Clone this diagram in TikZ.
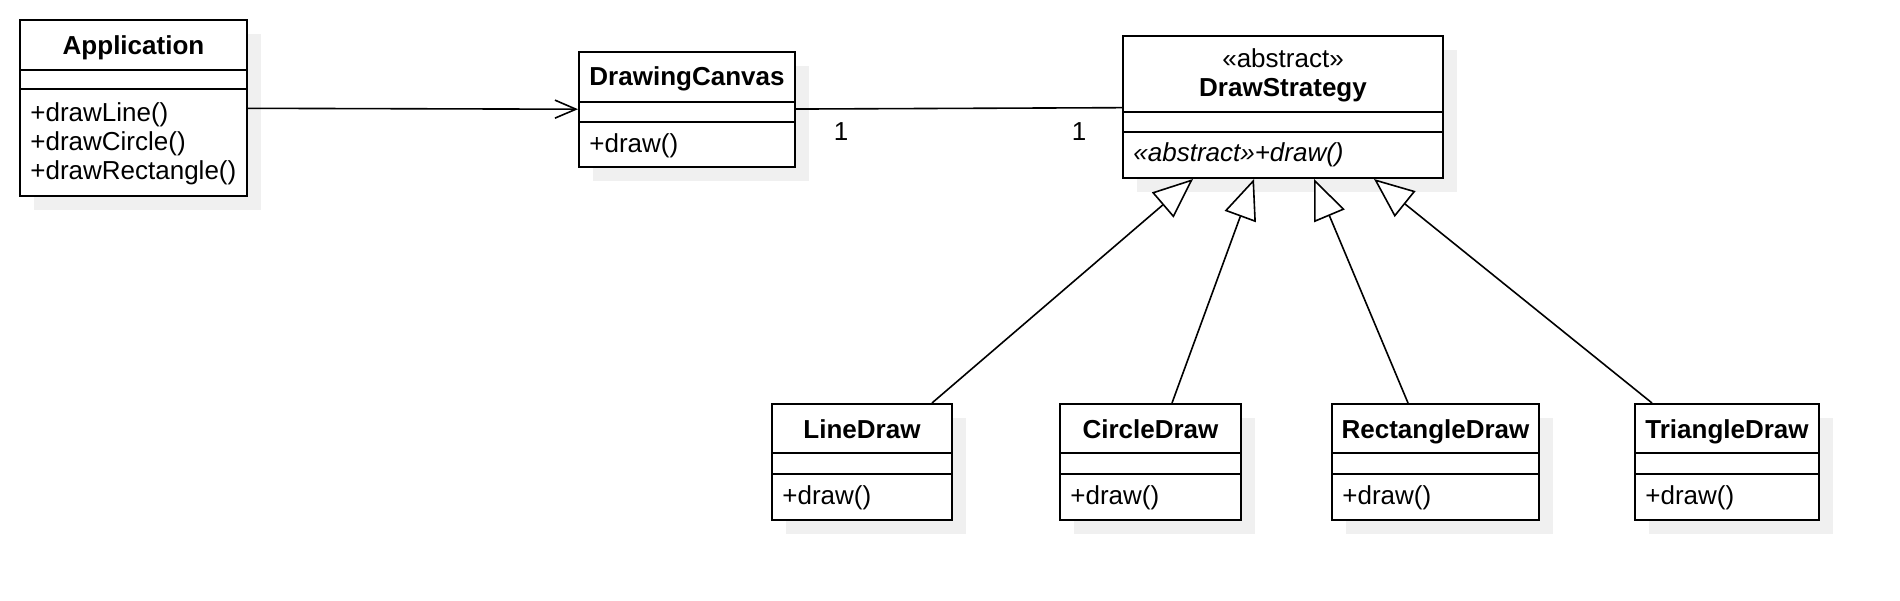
\documentclass[tikz,border=0pt]{standalone}
\usepackage{fontspec}
\setmainfont{Liberation Sans}
\usetikzlibrary{arrows.meta,positioning,calc,shadows}
\definecolor{umlline}{RGB}{0,0,0}
\definecolor{umlshadow}{RGB}{240,240,240}

\begin{document}
\begin{tikzpicture}[
  x=0.5pt, y=-0.5pt,
  font=\fontsize{13}{14.6}\selectfont,
  classbox/.style={draw=umlline, line width=1pt, fill=white, inner sep=0pt,
    drop shadow={shadow xshift=7pt, shadow yshift=-7pt, fill=umlshadow, opacity=1}},
  title/.style={font=\fontsize{13}{14.6}\selectfont\bfseries, anchor=base, inner sep=0pt},
  stereo/.style={anchor=base, inner sep=0pt},
  member/.style={anchor=west, align=left, inner sep=0pt},
  onemember/.style={anchor=base west, inner sep=0pt},
  mult/.style={inner sep=0pt},
  divider/.style={draw=umlline, line width=1pt},
  assoc/.style={draw=umlline, line width=0.8pt},
  navig/.style={draw=umlline, line width=0.8pt, -{Straight Barb[length=10.5pt, width=9pt]}},
  inherit/.style={draw=umlline, line width=0.8pt, -{Triangle[fill=white, length=20pt, width=16.5pt]}}
]
\useasboundingbox (0,0) rectangle (1900,600);

% client and context
\node[classbox, minimum width=113.5pt, minimum height=88pt] (app) at (133.5,108) {};
\node[title] (appname) at (133.5,54) {Application};
\draw[divider] (20,70) -- (247,70);
\draw[divider] (20,89) -- (247,89);
\node[member] (appops) at (30,143.5) {+drawLine()\\+drawCircle()\\+drawRectangle()};

\node[classbox, minimum width=108pt, minimum height=57.5pt] (canvas) at (687,109.5) {};
\node[title] (canvasname) at (687,85) {DrawingCanvas};
\draw[divider] (579,102) -- (795,102);
\draw[divider] (579,122) -- (795,122);
\node[onemember] (canvasops) at (589,152) {+draw()};

% abstract strategy
\node[classbox, minimum width=160pt, minimum height=71pt] (strategy) at (1283,107) {};
\node[stereo] (strategystereo) at (1283,67) {«abstract»};
\node[title] (strategyname) at (1283,96) {DrawStrategy};
\draw[divider] (1123,112) -- (1443,112);
\draw[divider] (1123,132) -- (1443,132);
\node[onemember] (strategyops) at (1133,161) {\itshape «abstract»+draw()};

% concrete strategies
\node[classbox, minimum width=90pt, minimum height=58pt] (linedraw) at (862,462) {};
\node[title] (linename) at (862,438) {LineDraw};
\draw[divider] (772,453) -- (952,453);
\draw[divider] (772,474) -- (952,474);
\node[onemember] (lineops) at (782,504) {+draw()};

\node[classbox, minimum width=90.5pt, minimum height=58pt] (circledraw) at (1150.5,462) {};
\node[title] (circlename) at (1150.5,438) {CircleDraw};
\draw[divider] (1060,453) -- (1241,453);
\draw[divider] (1060,474) -- (1241,474);
\node[onemember] (circleops) at (1070,504) {+draw()};

\node[classbox, minimum width=103.5pt, minimum height=58pt] (rectdraw) at (1435.5,462) {};
\node[title] (rectname) at (1435.5,438) {RectangleDraw};
\draw[divider] (1332,453) -- (1539,453);
\draw[divider] (1332,474) -- (1539,474);
\node[onemember] (rectops) at (1342,504) {+draw()};

\node[classbox, minimum width=92pt, minimum height=58pt] (tridraw) at (1727,462) {};
\node[title] (triname) at (1727,438) {TriangleDraw};
\draw[divider] (1635,453) -- (1819,453);
\draw[divider] (1635,474) -- (1819,474);
\node[onemember] (triops) at (1645,504) {+draw()};

% relations
\draw[navig] (app) -- (canvas);
\draw[assoc] (canvas) -- (strategy);
\node[mult] (multcanvas) at (841,132) {1};
\node[mult] (multstrategy) at (1079,132) {1};

\draw[inherit] ([xshift=35pt]linedraw.north) -- ([xshift=-45pt]strategy.south);
\draw[inherit] ([xshift=10.75pt]circledraw.north) -- ([xshift=-14.5pt]strategy.south);
\draw[inherit] ([xshift=-13.75pt]rectdraw.north) -- ([xshift=15.5pt]strategy.south);
\draw[inherit] ([xshift=-37.5pt]tridraw.north) -- ([xshift=45.5pt]strategy.south);
\end{tikzpicture}
\end{document}
